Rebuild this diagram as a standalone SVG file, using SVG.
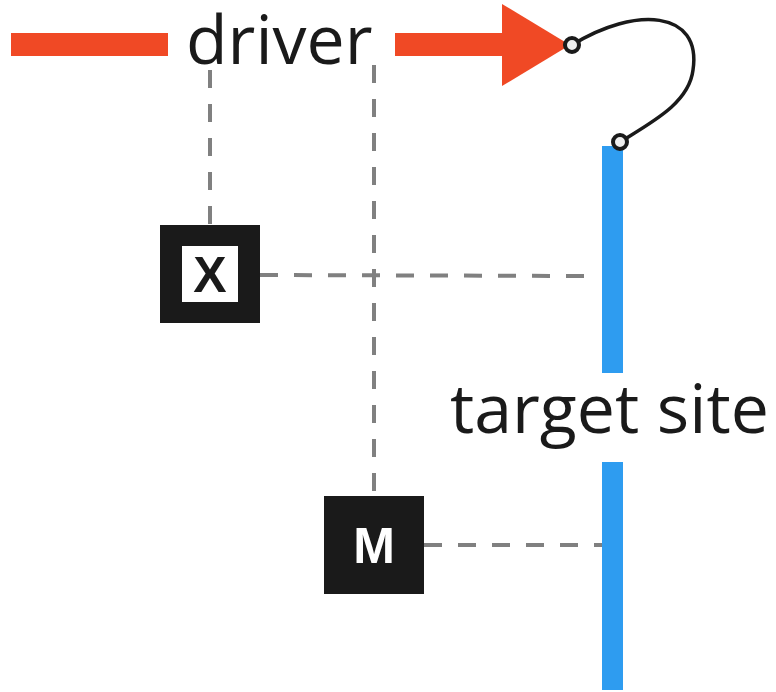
<svg xmlns="http://www.w3.org/2000/svg" width="776" height="692" viewBox="0 0 776 692">
  <defs>
    <style>
      .label { font-family: "Open Sans", "Noto Sans", sans-serif; font-size: 68px; fill: #1a1a1a; }
      .tag { font-family: "Liberation Sans", Arial, sans-serif; font-weight: bold; font-size: 50px; text-anchor: middle; }
      .dash { stroke: #808080; stroke-width: 4; stroke-dasharray: 18 16; fill: none; }
      .drive { fill: #f04925; }
      .site { fill: #2e9cf0; }
      .loop { stroke: #1a1a1a; stroke-width: 3.5; fill: none; }
      .pin { fill: #eeeeee; stroke: #1a1a1a; stroke-width: 4; }
    </style>
  </defs>
  <rect width="776" height="692" fill="#ffffff"/>

  <g id="connectors">
    <line class="dash" x1="210" y1="70" x2="210" y2="225"/>
    <line class="dash" x1="374" y1="65" x2="374" y2="496"/>
    <line class="dash" x1="260" y1="275" x2="590" y2="276"/>
    <line class="dash" x1="424" y1="545" x2="606" y2="545"/>
  </g>

  <g id="driver">
    <rect class="drive" x="11" y="33" width="157" height="23"/>
    <rect class="drive" x="395" y="33" width="110" height="23"/>
    <polygon class="drive" points="502,4 502,86 570,45"/>
    <text class="label" x="186" y="64">driver</text>
  </g>

  <g id="target-site">
    <rect class="site" x="602" y="146" width="21" height="227"/>
    <rect class="site" x="602" y="462" width="21" height="228"/>
    <text class="label" x="450" y="433">target site</text>
  </g>

  <g id="linker">
    <path class="loop" d="M572,45 C635,6 702,10 693,70 C689,103 652,122 620,142"/>
    <circle class="pin" cx="572" cy="45" r="7"/>
    <circle class="pin" cx="620" cy="142" r="7"/>
  </g>

  <g id="node-x">
    <rect x="160" y="225" width="100" height="98" fill="#1a1a1a"/>
    <rect x="182" y="246" width="56" height="56" fill="#ffffff"/>
    <text class="tag" x="210" y="292" fill="#1a1a1a">X</text>
  </g>

  <g id="node-m">
    <rect x="324" y="496" width="100" height="98" fill="#1a1a1a"/>
    <text class="tag" x="374" y="563" fill="#ffffff">M</text>
  </g>
</svg>
